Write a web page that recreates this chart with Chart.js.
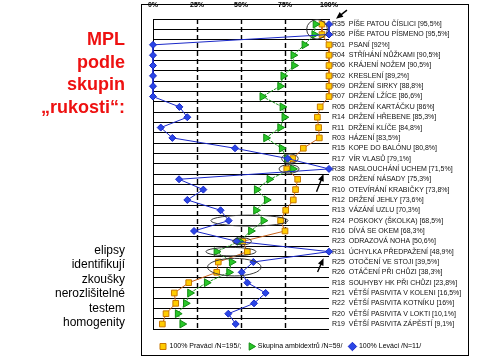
<!DOCTYPE html>
<html>
<head>
<meta charset="utf-8">
<script src="https://cdn.jsdelivr.net/npm/chart.js@4.4.1/dist/chart.umd.min.js"></script>
<style>
	body { margin: 0; background: #fff; }
	#wrap { position: relative; width: 480px; height: 360px; overflow: hidden; }
	#frame { position: absolute; left: 141px; top: 4px; width: 326px; height: 350px; border: 1px solid #000; }
	#chart { position: absolute; left: 0; top: 0; }
	.side { position: absolute; right: 355px; text-align: right; font-family: "Liberation Sans", Arial, sans-serif; }
	#title { top: 28px; font-size: 18px; font-weight: bold; line-height: 22.7px; color: #ee1111; }
	#note { top: 243px; font-size: 12px; line-height: 14.4px; color: #000; }
</style>
</head>
<body>
<div id="wrap">
	<div id="frame"></div>
	<canvas id="chart" width="480" height="360"></canvas>
	<div id="title" class="side">MPL<br>podle<br>skupin<br>„rukosti“:</div>
	<div id="note" class="side">elipsy<br>identifikují<br>zkoušky<br>nerozlišitelné<br>testem<br>homogenity</div>
</div>
<script>
// zkoušky (řádky shora dolů)
var rowLabels = [
	'R35  PÍŠE PATOU ČÍSLICI [95,5%]',
	'R36  PÍŠE PATOU PÍSMENO [95,5%]',
	'R01  PSANÍ [92%]',
	'R04  STŘÍHÁNÍ NŮŽKAMI [90,5%]',
	'R06  KRÁJENÍ NOŽEM [90,5%]',
	'R02  KRESLENÍ [89,2%]',
	'R09  DRŽENÍ SIRKY [88,8%]',
	'R07  DRŽENÍ LŽÍCE [86,6%]',
	'R05  DRŽENÍ KARTÁČKU [86%]',
	'R14  DRŽENÍ HŘEBENE [85,3%]',
	'R11  DRŽENÍ KLÍČE [84,8%]',
	'R03  HÁZENÍ [83,5%]',
	'R15  KOPE DO BALÓNU [80,8%]',
	'R17  VÍR VLASŮ [79,1%]',
	'R38  NASLOUCHÁNÍ UCHEM [71,5%]',
	'R08  DRŽENÍ NÁSADY [75,3%]',
	'R10  OTEVÍRÁNÍ KRABIČKY [73,8%]',
	'R12  DRŽENÍ JEHLY [73,6%]',
	'R13  VÁZÁNÍ UZLU [70,3%]',
	'R24  POSKOKY (ŠKOLKA) [68,5%]',
	'R16  DÍVÁ SE OKEM [68,3%]',
	'R23  ODRAZOVÁ NOHA [50,6%]',
	'R31  ÚCHYLKA PŘEDPAŽENÍ [48,9%]',
	'R25  OTOČENÍ VE STOJI [39,5%]',
	'R26  OTÁČENÍ PŘI CHŮZI [38,3%]',
	'R18  SOUHYBY HK PŘI CHŮZI [23,8%]',
	'R21  VĚTŠÍ PASIVITA V KOLENI [16,5%]',
	'R22  VĚTŠÍ PASIVITA KOTNÍKU [16%]',
	'R20  VĚTŠÍ PASIVITA V LOKTI [10,1%]',
	'R19  VĚTŠÍ PASIVITA ZÁPĚSTÍ [9,1%]'
];

// hodnoty v %
var pravaci = [96, 96, 100, 100, 100, 100, 100, 100, 95, 93.4, 94.1, 94.5, 85.4, 79.4, 76, 82.2, 81, 79.7, 75.4, 72.5, 75, 51, 53.6, 37.1, 36.2, 20.3, 12.1, 12.9, 7.4, 5.3];
var ambidextri = [92.3, 91.6, 86, 79.7, 80.1, 74, 72.2, 62.1, 73.5, 74.6, 72.2, 64.2, 73.1, 76, 79.5, 66.1, 58.9, 64.6, 58.5, 62.7, 55.6, 49, 36, 44.7, 43.2, 30.5, 21, 18.6, 14, 16.6];
var levaci = [100, 100, 0, 0, 0, 0, 0, 0, 15, 19.5, 4.4, 11, 46.6, 76.5, 100, 14.8, 28.6, 19.5, 38.4, 43, 23.3, 47.5, 100, 57, 50.4, 53.6, 64, 57.4, 42.8, 47];

var xTicks = [0, 25, 50, 75, 100];
var xTickLabels = ['0%', '25%', '50%', '75%', '100%'];
var legendLabels = ['100% Praváci /N=195/;', 'Skupina ambidextrů /N=59/', '100% Leváci /N=11/'];

// elipsy a šipky (x v %, y v indexu řádku)
var ellipses = [
	{x: 93.2, y: 0.5, rx: 5.9, ry: 0.94},
	{x: 77.8, y: 13, rx: 4.7, ry: 0.44},
	{x: 77.3, y: 14, rx: 5.7, ry: 0.41},
	{x: 54.8, y: 19, rx: 21.9, ry: 0.53},
	{x: 50.6, y: 21, rx: 5.3, ry: 0.34},
	{x: 44.3, y: 22, rx: 14.2, ry: 0.41},
	{x: 46.2, y: 23.5, rx: 15.2, ry: 0.85}
];
var arrows = [
	{x0: 110.2, y0: -1.36, x1: 104, y1: -0.53},
	{x0: 92.9, y0: 16.2, x1: 96.9, y1: 14.5},
	{x0: 93.5, y0: 23.96, x1: 96.9, y1: 22.65}
];

var decor = {
	id: 'decor',
	beforeDatasetsDraw: function(chart) {
		var ctx = chart.ctx, xs = chart.scales.x, a = chart.chartArea;
		ctx.save();
		ctx.strokeStyle = '#000';
		xTicks.forEach(function(v) {
			if (v === 100) return;
			var px = Math.round(xs.getPixelForValue(v)) + 0.5;
			ctx.lineWidth = v === 0 ? 1 : 1.4;
			ctx.setLineDash(v === 0 ? [] : [5, 3]);
			ctx.beginPath();
			ctx.moveTo(px, a.top);
			ctx.lineTo(px, a.bottom);
			ctx.stroke();
		});
		ctx.restore();
	},
	afterDatasetsDraw: function(chart) {
		var ctx = chart.ctx, xs = chart.scales.x, ys = chart.scales.y;
		var rowH = ys.getPixelForValue(1) - ys.getPixelForValue(0);
		var yPix = function(r) { return ys.getPixelForValue(0) + r * rowH; };
		var xPerUnit = xs.getPixelForValue(1) - xs.getPixelForValue(0);
		ctx.save();
		ctx.strokeStyle = '#3a3a3a';
		ctx.lineWidth = 1;
		ellipses.forEach(function(e) {
			ctx.beginPath();
			ctx.ellipse(xs.getPixelForValue(e.x), yPix(e.y), e.rx * xPerUnit, e.ry * rowH, 0, 0, Math.PI * 2);
			ctx.stroke();
		});
		ctx.strokeStyle = '#000';
		ctx.fillStyle = '#000';
		ctx.lineWidth = 1.4;
		arrows.forEach(function(ar) {
			var x0 = xs.getPixelForValue(ar.x0), y0 = yPix(ar.y0);
			var x1 = xs.getPixelForValue(ar.x1), y1 = yPix(ar.y1);
			var ang = Math.atan2(y1 - y0, x1 - x0);
			ctx.beginPath();
			ctx.moveTo(x0, y0);
			ctx.lineTo(x1 - 5 * Math.cos(ang), y1 - 5 * Math.sin(ang));
			ctx.stroke();
			ctx.beginPath();
			ctx.moveTo(x1, y1);
			ctx.lineTo(x1 - 7 * Math.cos(ang) + 3 * Math.sin(ang), y1 - 7 * Math.sin(ang) - 3 * Math.cos(ang));
			ctx.lineTo(x1 - 7 * Math.cos(ang) - 3 * Math.sin(ang), y1 - 7 * Math.sin(ang) + 3 * Math.cos(ang));
			ctx.closePath();
			ctx.fill();
		});
		ctx.restore();
	}
};

var config = {
	type: 'line',
	data: {
		labels: rowLabels,
		datasets: [
			{
				label: legendLabels[0],
				data: pravaci,
				borderColor: '#c8641e',
				borderWidth: 1,
				pointStyle: 'rect',
				pointRadius: 4,
				pointBackgroundColor: '#ffcc00',
				pointBorderColor: '#c87800',
				pointBorderWidth: 1,
				clip: false,
				order: 3
			},
			{
				label: legendLabels[1],
				data: ambidextri,
				borderColor: '#1e961e',
				borderWidth: 1,
				borderDash: [3, 1],
				pointStyle: 'triangle',
				rotation: 90,
				pointRadius: 4.5,
				pointBackgroundColor: '#28c828',
				pointBorderColor: '#138a13',
				pointBorderWidth: 1,
				clip: false,
				order: 2
			},
			{
				label: legendLabels[2],
				data: levaci,
				borderColor: '#1a28c8',
				borderWidth: 1,
				pointStyle: 'rectRot',
				pointRadius: 3.5,
				pointBackgroundColor: '#2a46e6',
				pointBorderColor: '#1a28c8',
				pointBorderWidth: 1,
				clip: false,
				order: 1
			}
		]
	},
	options: {
		responsive: false,
		animation: false,
		indexAxis: 'y',
		layout: { padding: { left: 153, right: 0, top: 0, bottom: 0 } },
		elements: { line: { tension: 0 } },
		scales: {
			x: {
				type: 'linear',
				position: 'top',
				min: 0,
				max: 100,
				afterBuildTicks: function(scale) {
					scale.ticks = xTicks.map(function(v) { return {value: v}; });
				},
				afterFit: function(scale) { scale.height = 19; },
				ticks: {
					padding: 2,
					color: '#000',
					font: { family: 'Liberation Sans', size: 7, weight: 'bold' },
					callback: function(v) { return xTickLabels[xTicks.indexOf(v)]; }
				},
				grid: { display: false },
				border: { display: true, color: '#000', width: 1 }
			},
			y: {
				type: 'category',
				position: 'right',
				offset: true,
				afterFit: function(scale) { scale.width = 151; },
				ticks: {
					crossAlign: 'near',
					padding: 3,
					autoSkip: false,
					color: '#111',
					font: { family: 'Liberation Sans', size: 7 }
				},
				grid: { offset: true, color: '#000', lineWidth: 1, drawTicks: false },
				border: { display: false }
			}
		},
		plugins: {
			legend: {
				position: 'bottom',
				align: 'start',
				title: { display: true, text: ' ', padding: 1, font: { size: 4 } },
				labels: {
					usePointStyle: true,
					boxWidth: 6,
					boxHeight: 6,
					padding: 7,
					color: '#000',
					font: { family: 'Liberation Sans', size: 7 },
					sort: function(a, b) { return a.datasetIndex - b.datasetIndex; }
				}
			},
			tooltip: { enabled: false }
		}
	},
	plugins: [decor]
};

new Chart(document.getElementById('chart'), config);
</script>
</body>
</html>
